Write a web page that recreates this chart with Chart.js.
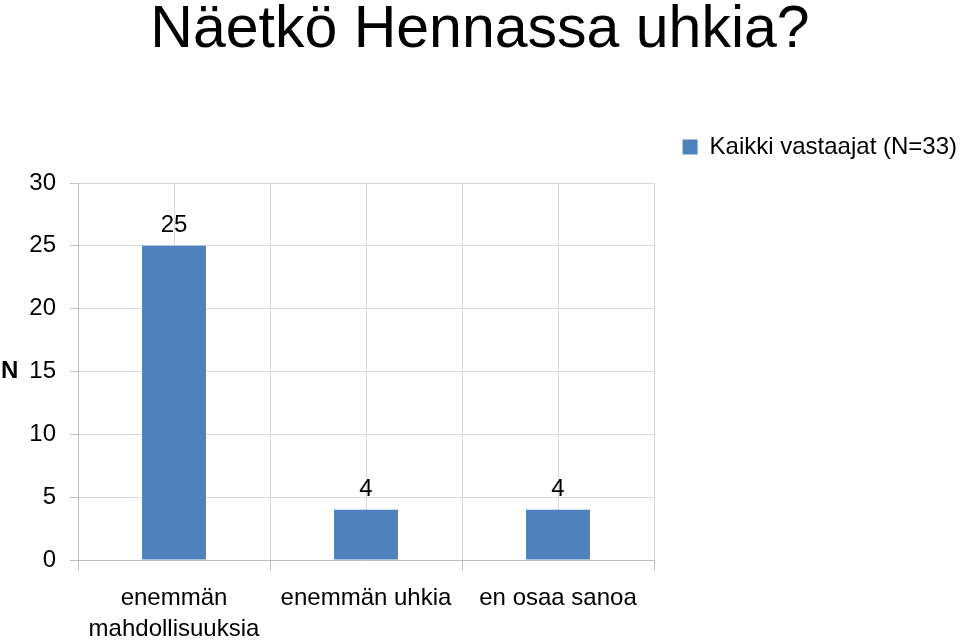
<!DOCTYPE html>
<html>
<head>
<meta charset="utf-8">
<script src="https://cdn.jsdelivr.net/npm/chart.js@4/dist/chart.umd.min.js"></script>
<style>
  html, body { margin: 0; padding: 0; background: #fff; }
  #wrap { position: relative; width: 960px; height: 641px; }
</style>
</head>
<body>
<div id="wrap"><canvas id="chart"></canvas></div>
<script>
/* Näetkö Hennassa uhkia? — pylväskaavio */
const TITLE = "Näetkö Hennassa uhkia?";
const CATEGORIES = [["enemmän", "mahdollisuuksia"], "enemmän uhkia", "en osaa sanoa"];
const SERIES_NAME = "Kaikki vastaajat (N=33)";
const VALUES = [25, 4, 4];
const Y_MIN = 0, Y_MAX = 30, Y_STEP = 5;
const Y_TITLE = "N";

const FONT = "'Liberation Sans', Arial, sans-serif";
const BAR = "#4F81BD";
const GRID = "#D9D9D9";
const AXIS = "#BFBFBF";

/* arvot pylväiden yläpuolelle */
const valueLabels = {
  id: "valueLabels",
  afterDatasetsDraw(chart) {
    const ctx = chart.ctx;
    ctx.save();
    ctx.font = "24px " + FONT;
    ctx.fillStyle = "#000";
    ctx.textAlign = "center";
    ctx.textBaseline = "bottom";
    chart.getDatasetMeta(0).data.forEach((bar, i) => {
      ctx.fillText(String(VALUES[i]), bar.x, bar.y - 8);
    });
    ctx.restore();
  }
};

/* y-akselin nimi vaakasuoraan, kuten Excelissä */
const yTitle = {
  id: "yTitle",
  afterDraw(chart) {
    const ctx = chart.ctx, a = chart.chartArea;
    ctx.save();
    ctx.font = "bold 24px " + FONT;
    ctx.fillStyle = "#000";
    ctx.textAlign = "left";
    ctx.textBaseline = "middle";
    ctx.fillText(Y_TITLE, 1, (a.top + a.bottom) / 2);
    ctx.restore();
  }
};

new Chart(document.getElementById("chart"), {
  type: "bar",
  data: {
    labels: CATEGORIES,
    datasets: [{
      label: SERIES_NAME,
      data: VALUES,
      backgroundColor: BAR,
      borderWidth: 0,
      categoryPercentage: 1,
      barPercentage: 0.333
    }]
  },
  options: {
    responsive: true,
    maintainAspectRatio: false,
    animation: false,
    layout: { padding: 0 },
    plugins: {
      title: {
        display: true,
        text: TITLE,
        color: "#000",
        font: { family: FONT, size: 59, weight: "normal", lineHeight: 1 },
        padding: { top: 1, bottom: 72 }
      },
      legend: {
        position: "top",
        align: "end",
        labels: {
          color: "#000",
          font: { family: FONT, size: 24 },
          boxWidth: 15,
          boxHeight: 15,
          padding: 3
        }
      },
      tooltip: { enabled: false }
    },
    scales: {
      x: {
        grid: { color: GRID, offset: true, tickLength: 10, tickColor: AXIS },
        border: { color: AXIS },
        ticks: { color: "#000", font: { family: FONT, size: 24, lineHeight: 1.3 }, padding: 13, maxRotation: 0 },
        afterFit: s => { s.height = 81; }
      },
      xMid: {
        position: "top",
        grid: { color: GRID, offset: false, drawTicks: false },
        border: { display: false },
        ticks: { display: false },
        afterFit: s => { s.height = 14; }
      },
      y: {
        min: Y_MIN, max: Y_MAX,
        grid: { color: GRID, tickLength: 8, tickColor: AXIS },
        border: { color: AXIS },
        ticks: { stepSize: Y_STEP, color: "#000", font: { family: FONT, size: 24 }, padding: 14 },
        afterFit: s => { s.width = 78; }
      },
      ySpace: {
        position: "right",
        display: true,
        grid: { display: false },
        border: { display: false },
        ticks: { display: false },
        afterFit: s => { s.width = 306; }
      }
    }
  },
  plugins: [valueLabels, yTitle]
});
</script>
</body>
</html>
